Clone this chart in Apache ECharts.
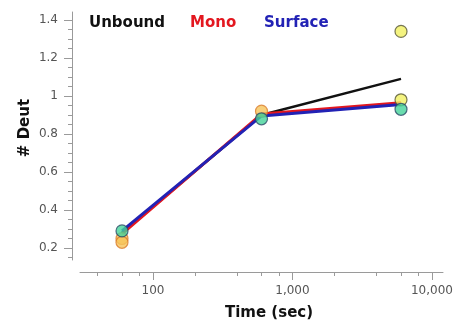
<!DOCTYPE html>
<html>
<head>
<meta charset="utf-8">
<script src="https://cdn.jsdelivr.net/npm/echarts@6/dist/echarts.min.js"></script>
<style>
  html, body { margin: 0; padding: 0; background: #fff; }
  #chart { width: 472px; height: 326px; }
</style>
</head>
<body>
<div id="chart"></div>
<script>
// Exchange time points (seconds)
const times = [60, 600, 6000];

// Fitted curves per state
const unbound = [0.28, 0.90, 1.09];
const mono    = [0.275, 0.905, 0.965];
const surface = [0.29, 0.895, 0.955];

// Measured replicate points: [time, deuterium count]
const greenPts  = [[60, 0.29], [600, 0.88], [6000, 0.93]];
const orangePts = [[60, 0.25], [60, 0.23], [600, 0.92]];
const yellowPts = [[6000, 1.34], [6000, 0.98]];

// Axis ticks
const yMajor = [0.2, 0.4, 0.6, 0.8, 1, 1.2, 1.4];
const yMinor = [0.15, 0.25, 0.3, 0.35, 0.45, 0.5, 0.55, 0.65, 0.7, 0.75, 0.85, 0.9, 0.95,
                1.05, 1.1, 1.15, 1.25, 1.3, 1.35];
const xMajor = [100, 1000, 10000];
const xMinor = [40, 60, 80, 200, 400, 600, 800, 2000, 4000, 6000, 8000];

const seriesNames = ['Unbound', 'Mono', 'Surface'];
const seriesColors = ['#111111', '#e3171f', '#2222b5'];

const font = "'DejaVu Sans', Verdana, sans-serif";
const axisGrey = '#9a9a9a';
const Y_MIN = 0.1368, Y_MAX = 1.442;

function pair(xs, ys) { return xs.map((x, i) => [x, ys[i]]); }
function withCommas(v) { return String(Math.round(v)).replace(/\B(?=(\d{3})+(?!\d))/g, ','); }

const chart = echarts.init(document.getElementById('chart'), null, { renderer: 'canvas' });

const markerStyle = (fill, border) => ({ color: fill, borderColor: border, borderWidth: 1.2 });

chart.setOption({
  animation: false,
  backgroundColor: '#ffffff',
  grid: { left: 80, right: 29, top: 12, bottom: 66 },
  xAxis: [
    {
      type: 'log', min: 30, max: 12000, offset: 12,
      axisLine: { lineStyle: { color: axisGrey, width: 1 } },
      axisTick: { customValues: xMajor, length: 8, lineStyle: { color: axisGrey } },
      axisLabel: { customValues: xMajor, margin: 13, color: '#555', fontSize: 12, fontFamily: font,
                   formatter: v => withCommas(v) },
      splitLine: { show: false }, minorTick: { show: false }
    },
    {
      type: 'log', min: 30, max: 12000, offset: 12, position: 'bottom',
      axisLine: { show: false },
      axisTick: { customValues: xMinor, length: 4, lineStyle: { color: axisGrey } },
      axisLabel: { show: false },
      splitLine: { show: false }
    }
  ],
  yAxis: [
    {
      type: 'value', min: Y_MIN, max: Y_MAX, offset: 8,
      axisLine: { show: true, lineStyle: { color: axisGrey, width: 1 } },
      axisTick: { show: true, customValues: yMajor, length: 8, lineStyle: { color: axisGrey } },
      axisLabel: { customValues: yMajor, margin: 14, color: '#555', fontSize: 12, fontFamily: font },
      splitLine: { show: false }
    },
    {
      type: 'value', min: Y_MIN, max: Y_MAX, offset: 8, position: 'left',
      axisLine: { show: false },
      axisTick: { show: true, customValues: yMinor, length: 4, lineStyle: { color: axisGrey } },
      axisLabel: { show: false },
      splitLine: { show: false }
    }
  ],
  graphic: [
    { type: 'text', left: 89, top: 16, style: { text: seriesNames[0], fill: seriesColors[0], font: 'bold 15px ' + font } },
    { type: 'text', left: 190, top: 16, style: { text: seriesNames[1], fill: seriesColors[1], font: 'bold 15px ' + font } },
    { type: 'text', left: 264, top: 16, style: { text: seriesNames[2], fill: seriesColors[2], font: 'bold 15px ' + font } },
    { type: 'text', x: 269, y: 313, style: { text: 'Time (sec)', fill: '#111', font: 'bold 15px ' + font, align: 'center', verticalAlign: 'middle' } },
    { type: 'text', x: 25, y: 128, rotation: Math.PI / 2, style: { text: '# Deut', fill: '#111', font: 'bold 15px ' + font, align: 'center', verticalAlign: 'middle' } }
  ],
  series: [
    { name: seriesNames[0], type: 'line', data: pair(times, unbound), showSymbol: false, z: 2,
      lineStyle: { color: seriesColors[0], width: 2.5 } },
    { name: seriesNames[1], type: 'line', data: pair(times, mono), showSymbol: false, z: 3,
      lineStyle: { color: seriesColors[1], width: 3 } },
    { name: seriesNames[2], type: 'line', data: pair(times, surface), showSymbol: false, z: 4,
      lineStyle: { color: seriesColors[2], width: 3 } },
    { type: 'scatter', data: orangePts, symbolSize: 12, z: 5,
      itemStyle: markerStyle('#f6c45a', '#d97c2a') },
    { type: 'scatter', data: yellowPts, symbolSize: 12, z: 6,
      itemStyle: markerStyle('#f1f060', '#555533') },
    { type: 'scatter', data: greenPts, symbolSize: 12, z: 7,
      itemStyle: markerStyle('#45d39a', '#2a4a66') }
  ]
});
</script>
</body>
</html>
